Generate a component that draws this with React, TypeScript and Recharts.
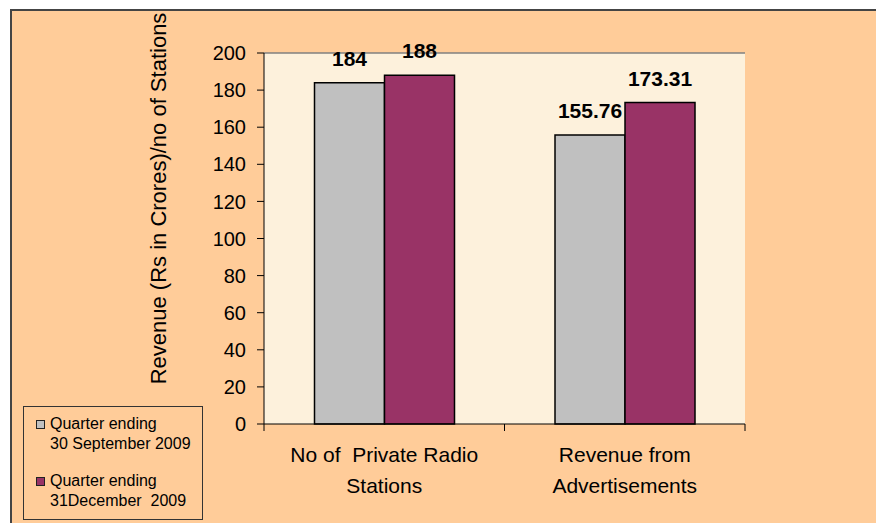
import React from 'react';
import { BarChart, Bar, XAxis, YAxis, CartesianGrid, Legend, LabelList, ReferenceLine } from 'recharts';

// categories and series
const categories = ['No of  Private Radio\nStations', 'Revenue from\nAdvertisements'];
const quarterSep2009 = [184, 155.76];
const quarterDec2009 = [188, 173.31];
const seriesNames = ['Quarter ending\n30 September 2009', 'Quarter ending\n31December  2009'];
const yTicks = [0, 20, 40, 60, 80, 100, 120, 140, 160, 180, 200];
const yAxisTitle = 'Revenue (Rs in Crores)/no of Stations';

const data = categories.map((name, i) => ({
  name,
  sep: quarterSep2009[i],
  dec: quarterDec2009[i],
}));

const FONT = 'Arial, "Liberation Sans", sans-serif';

const CategoryTick = (props: any) => {
  const { x, y, payload, index } = props;
  const half = payload && payload.offset ? payload.offset : 120;
  const lines = String(payload.value).split('\n');
  return (
    <g>
      <line x1={x - half} x2={x - half} y1={y} y2={y + 7} stroke="#000" />
      {index === categories.length - 1 && (
        <line x1={x + half} x2={x + half} y1={y} y2={y + 7} stroke="#000" />
      )}
      <text x={x} y={y + 38} textAnchor="middle" fontSize={21} fontFamily={FONT} fill="#000" style={{ whiteSpace: 'pre' }}>
        {lines.map((l, i) => (
          <tspan key={i} x={x} dy={i === 0 ? 0 : 31}>{l}</tspan>
        ))}
      </text>
    </g>
  );
};

const YTitle = (props: any) => {
  const vb = props.viewBox || { x: 192, y: 42, width: 60, height: 371 };
  const cx = vb.x - 38;
  const cy = vb.y + vb.height / 2 - 40;
  return (
    <text
      transform={`translate(${cx}, ${cy}) rotate(-90)`}
      textAnchor="middle"
      fontSize={22}
      fontFamily={FONT}
      fill="#000"
    >
      {yAxisTitle}
    </text>
  );
};

const LegendBox = (props: any) => {
  const items = props.payload || [];
  return (
    <div
      style={{
        boxSizing: 'border-box',
        width: '100%',
        height: '100%',
        border: '1px solid #333',
        paddingTop: 7,
        fontFamily: FONT,
        fontSize: 16,
        color: '#000',
      }}
    >
      {items.map((entry: any, i: number) => {
        const lines = String(entry.value).split('\n');
        return (
          <div key={i} style={{ position: 'relative', marginBottom: 17, paddingLeft: 26 }}>
            <span
              style={{
                position: 'absolute',
                left: 12,
                top: 6,
                width: 7,
                height: 7,
                background: entry.color,
                border: '1px solid #222',
              }}
            />
            {lines.map((l, j) => (
              <div key={j} style={{ lineHeight: '20px', whiteSpace: 'pre' }}>{l}</div>
            ))}
          </div>
        );
      })}
    </div>
  );
};

export default function App() {
  return (
    <div
      style={{
        position: 'absolute',
        left: 10,
        top: 9,
        width: 864,
        height: 512,
        borderTop: '2px solid #444',
        borderLeft: '2px solid #444',
        background: '#FFCC99',
      }}
    >
      <BarChart
        width={864}
        height={512}
        data={data}
        margin={{ top: 42, right: 131, bottom: 9, left: 192 }}
        barCategoryGap="21%"
        barGap={0}
      >
        <CartesianGrid horizontal={false} vertical={false} fill="#FDF1DC" stroke="none" />
        <XAxis
          dataKey="name"
          height={90}
          interval={0}
          axisLine={{ stroke: '#000' }}
          tickLine={false}
          tickSize={0}
          tickMargin={0}
          tick={<CategoryTick />}
        />
        <YAxis
          width={60}
          domain={[0, 200]}
          ticks={yTicks}
          interval={0}
          axisLine={{ stroke: '#000' }}
          tickLine={{ stroke: '#000' }}
          tickSize={7}
          tickMargin={11}
          tick={{ fontSize: 20, fill: '#000', fontFamily: FONT }}
          label={{ value: yAxisTitle, content: YTitle }}
        />
        <YAxis
          yAxisId="r"
          orientation="right"
          width={0}
          domain={[0, 200]}
          tick={false}
          tickLine={false}
          axisLine={{ stroke: '#808080', strokeWidth: 1.5 }}
        />
        <ReferenceLine y={200} stroke="#808080" strokeWidth={1.5} />
        <Legend
          layout="horizontal"
          align="center"
          verticalAlign="middle"
          wrapperStyle={{ position: 'absolute', left: 11, top: 395, width: 180, height: 114 }}
          content={<LegendBox />}
        />
        <Bar dataKey="sep" name={seriesNames[0]} fill="#C0C0C0" stroke="#000" strokeWidth={1.5} isAnimationActive={false}>
          <LabelList dataKey="sep" position="top" offset={17} fontSize={21} fontWeight="bold" fill="#000" fontFamily={FONT} />
        </Bar>
        <Bar dataKey="dec" name={seriesNames[1]} fill="#993366" stroke="#000" strokeWidth={1.5} isAnimationActive={false}>
          <LabelList dataKey="dec" position="top" offset={17} fontSize={21} fontWeight="bold" fill="#000" fontFamily={FONT} />
        </Bar>
      </BarChart>
    </div>
  );
}
